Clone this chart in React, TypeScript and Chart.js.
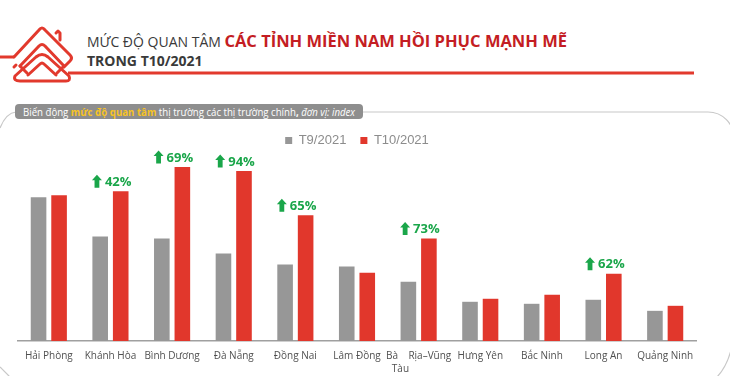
import React, { useEffect, useRef } from "react";
import { Chart, registerables } from "chart.js";

Chart.register(...registerables);

const categories: (string | string[])[] = [
  "Hải Phòng",
  "Khánh Hòa",
  "Bình Dương",
  "Đà Nẵng",
  "Đồng Nai",
  "Lâm Đồng",
  ["Bà    Rịa–Vũng", "Tàu              "],
  "Hưng Yên",
  "Bắc Ninh",
  "Long An",
  "Quảng Ninh",
];
const seriesNames = ["T9/2021", "T10/2021"];
const t9Values = [143, 104, 102, 87, 76, 74, 59, 39, 37, 41, 30];
const t10Values = [145, 149, 173, 169, 125, 68, 102, 42, 46, 67, 35];
const growthLabels: (string | null)[] = [null, "42%", "69%", "94%", "65%", null, "73%", null, null, "62%", null];

const Y_MAX = 183;

const growthPlugin = {
  id: "growth",
  afterDatasetsDraw(chart: any) {
    const ctx = chart.ctx;
    const meta = chart.getDatasetMeta(1);
    ctx.save();
    ctx.font = "bold 13px 'Open Sans'";
    ctx.textBaseline = "middle";
    ctx.textAlign = "left";
    growthLabels.forEach((lab, i) => {
      if (!lab) return;
      const el = meta.data[i];
      const tw = ctx.measureText(lab).width;
      const aw = 10;
      const gap = 3;
      const total = aw + gap + tw;
      const right = el.x + el.width / 2 + 3;
      const left = right - total;
      const cy = el.y - 10;
      ctx.fillStyle = "#1aa64a";
      ctx.beginPath();
      const ax = left + aw / 2;
      const top = cy - 6.5;
      ctx.moveTo(ax, top);
      ctx.lineTo(left + aw, top + 5.5);
      ctx.lineTo(ax + 2.4, top + 5.5);
      ctx.lineTo(ax + 2.4, top + 13);
      ctx.lineTo(ax - 2.4, top + 13);
      ctx.lineTo(ax - 2.4, top + 5.5);
      ctx.lineTo(left, top + 5.5);
      ctx.closePath();
      ctx.fill();
      ctx.fillText(lab, left + aw + gap, cy + 1);
    });
    ctx.restore();
  },
};

export default function App() {
  const ref = useRef<HTMLCanvasElement>(null);
  useEffect(() => {
    if (!ref.current) return;
    const chart = new Chart(ref.current, {
      type: "bar",
      data: {
        labels: categories,
        datasets: [
          {
            label: seriesNames[0],
            data: t9Values,
            backgroundColor: "#979797",
            barPercentage: 0.76,
            categoryPercentage: 0.666,
          },
          {
            label: seriesNames[1],
            data: t10Values,
            backgroundColor: "#e1372c",
            barPercentage: 0.76,
            categoryPercentage: 0.666,
          },
        ],
      },
      options: {
        responsive: false,
        animation: false,
        layout: { padding: { left: 18, right: 34, top: 120, bottom: -8 } },
        plugins: {
          legend: {
            display: true,
            position: "top",
            labels: {
              boxWidth: 7,
              boxHeight: 7,
              padding: 14,
              color: "#8c8c8c",
              font: { family: "'Liberation Sans', Arial", size: 13 },
            },
          },
          tooltip: { enabled: false },
        },
        scales: {
          x: {
            grid: { display: false, drawTicks: false },
            border: { display: true, color: "#a0a0a0", width: 1.5 },
            ticks: {
              autoSkip: false,
              maxRotation: 0,
              padding: 9,
              color: "#505050",
              font: { family: "'Open Sans'", size: 10, lineHeight: 1.25 },
            },
          },
          y: {
            display: false,
            min: 0,
            max: Y_MAX,
          },
        },
      },
      plugins: [growthPlugin],
    });
    return () => chart.destroy();
  }, []);

  return (
    <div
      style={{
        position: "absolute",
        left: 0,
        top: 0,
        width: 730,
        height: 376,
        overflow: "hidden",
        background: "#ffffff",
      }}
    >
      <svg width={730} height={376} style={{ position: "absolute", left: 0, top: 0 }}>
        <line x1={0} y1={57} x2={14} y2={57} stroke="#e2392d" strokeWidth={3} />
        <line x1={68} y1={73} x2={694} y2={73} stroke="#e2392d" strokeWidth={3} />
        <g fill="none" stroke="#e2392d" strokeWidth={3} strokeLinejoin="round" strokeLinecap="round">
          <path d="M14,57 L39,30 Q42,26 45,30 L70,55 Q73,58 70,61 L64,67" />
          <path d="M56,33 L58,31 L60,33 L60,40" />
          <path d="M20,66 L39,46 Q42,43 45,46 L64,66" />
          <path d="M14,67 L16,65 M20,66 L27,73 M64,66 L57,73" />
          <path d="M15,76 L36,57 Q42,52 48,57 L69,76 Q71,81 66,81 L20,81 Q13,81 15,76 Z" />
          <path d="M28,75 L40,64 Q42,62 44,64 L56,75" />
        </g>
        <g fill="none" stroke="#c8c8c8" strokeWidth={1.2}>
          <path d="M363,112 H708 A26,26 0 0 1 734,138" />
          <path d="M16,112 Q6,113 0,128" />
          <path d="M734,330 Q732,362 716,378" />
          <path d="M0,367 Q5,372 11,378" />
        </g>
        <text x={87} y={47} fontFamily="'Open Sans'">
          <tspan fontSize={14} fill="#3a3a3a">MỨC ĐỘ QUAN TÂM </tspan>
          <tspan fontSize={16.5} fontWeight="bold" fill="#c41d23">CÁC TỈNH MIỀN NAM HỒI PHỤC MẠNH MẼ</tspan>
        </text>
        <text x={87} y={66} fontFamily="'Open Sans'" fontSize={14} fontWeight="bold" fill="#3a3a3a">
          TRONG T10/2021
        </text>
        <rect x={15} y={104} width={348} height={15} rx={4} fill="#8e8e8e" />
        <text
          x={23}
          y={116}
          fontFamily="'Open Sans'"
          fontSize={11}
          fill="#ffffff"
          textLength={332}
          lengthAdjust="spacingAndGlyphs"
        >
          <tspan>Biến động </tspan>
          <tspan fontWeight="bold" fill="#f7c325">mức độ quan tâm</tspan>
          <tspan> thị trường các thị trường chính</tspan>
          <tspan fontWeight="bold">, </tspan>
          <tspan fontStyle="italic">đơn vị: index</tspan>
        </text>
      </svg>
      <canvas
        ref={ref}
        width={730}
        height={376}
        style={{ position: "absolute", left: 0, top: 0, width: 730, height: 376 }}
      />
    </div>
  );
}
